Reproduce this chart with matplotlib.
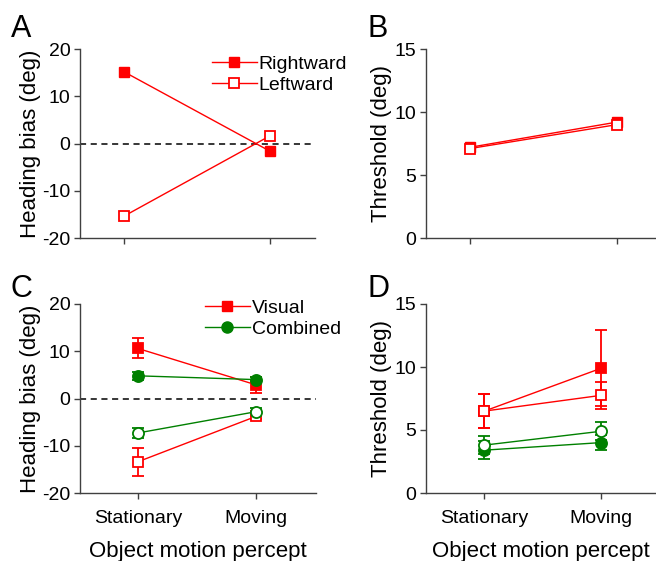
import matplotlib
matplotlib.use("Agg")
from matplotlib import pyplot as plt
from matplotlib.lines import Line2D

plt.rcParams['font.family'] = ['Liberation Sans', 'DejaVu Sans']
plt.rcParams['font.size'] = 14
plt.rcParams['axes.unicode_minus'] = False

RED = '#ff0000'
GREEN = '#008000'
SPINE = '#404040'

conds = ["Stationary", "Moving"]
xpos = [0, 1]

# panel A: heading bias, visual only
biasRight = [15.2, -1.6]
biasLeft = [-15.4, 1.6]

# panel B: thresholds, visual only
thrRight = [7.2, 9.2]
thrLeft = [7.1, 9.0]

# panel C: heading bias, visual / combined, with errors
visRight = [10.6, 2.9]
visRightErr = [2.1, 1.7]
visLeft = [-13.4, -3.8]
visLeftErr = [3.0, 0.5]
combRight = [4.8, 4.0]
combRightErr = [0.8, 0.6]
combLeft = [-7.3, -2.8]
combLeftErr = [1.1, 0.8]

# panel D: thresholds, visual / combined, with errors
thrVisRight = [6.5, 9.9]
thrVisRightErr = [1.35, 3.0]
thrVisLeft = [6.5, 7.75]
thrVisLeftErr = [1.35, 1.05]
thrCombRight = [3.4, 4.0]
thrCombRightErr = [0.7, 0.6]
thrCombLeft = [3.8, 4.9]
thrCombLeftErr = [0.7, 0.7]


def styleAxes(ax, ylim, yticks, xlim, xlabels):
    ax.set_xlim(*xlim)
    ax.set_ylim(*ylim)
    ax.set_yticks(yticks)
    ax.set_xticks(xpos)
    if xlabels:
        ax.set_xticklabels(conds)
        ax.set_xlabel("Object motion percept", labelpad=10, fontsize=16)
    else:
        ax.set_xticklabels([])
    for s in ["top", "right"]:
        ax.spines[s].set_visible(False)
    for s in ["left", "bottom"]:
        ax.spines[s].set_color(SPINE)
        ax.spines[s].set_linewidth(1.0)
    ax.tick_params(axis='both', colors=SPINE, labelcolor='black', length=4, width=1, labelsize=14)
    ax.tick_params(axis='x', pad=8)
    ax.tick_params(axis='y', pad=3)


def errLine(ax, y, err, color, marker, filled, ms):
    ax.errorbar(xpos, y, yerr=err, color=color, lw=1, elinewidth=1.3, capsize=4, capthick=1.3,
                marker=marker, ms=ms, mfc=color if filled else 'white', mec=color, mew=1.3, zorder=3)


W, H = 656, 561
fig = plt.figure(figsize=(W / 100, H / 100), dpi=100)

def axRect(left, top, right, bottom):
    return [left / W, 1 - bottom / H, (right - left) / W, (bottom - top) / H]

axA = fig.add_axes(axRect(80, 49, 315, 238))
axB = fig.add_axes(axRect(426, 49, 656, 238))
axC = fig.add_axes(axRect(80, 304, 316, 493))
axD = fig.add_axes(axRect(426, 304, 656, 493))

legKw = dict(loc='upper left', frameon=False, borderpad=0, borderaxespad=0,
             handlelength=2.3, handletextpad=0.1, labelspacing=0.2, fontsize=14)

# A
axA.axhline(0, color='black', ls=(0, (4, 3)), lw=1.1, zorder=1)
axA.plot(xpos, biasRight, color=RED, lw=1, marker='s', ms=7, mfc=RED, mec=RED, label="Rightward", zorder=3)
axA.plot(xpos, biasLeft, color=RED, lw=1, marker='s', ms=7, mfc='white', mec=RED, mew=1.3, label="Leftward", zorder=3)
styleAxes(axA, (-20, 20), [-20, -10, 0, 10, 20], (-0.30, 1.31), False)
axA.set_ylabel("Heading bias (deg)", labelpad=1, fontsize=16)
axA.legend(bbox_to_anchor=(0.562, 0.968), **legKw)

# B
axB.plot(xpos, thrRight, color=RED, lw=1, marker='s', ms=7, mfc=RED, mec=RED, zorder=3)
axB.plot(xpos, thrLeft, color=RED, lw=1, marker='s', ms=7, mfc='white', mec=RED, mew=1.3, zorder=3)
styleAxes(axB, (0, 15), [0, 5, 10, 15], (-0.30, 1.265), False)
axB.set_ylabel("Threshold (deg)", labelpad=2, fontsize=16)

# C
axC.axhline(0, color='black', ls=(0, (4, 3)), lw=1.1, zorder=1)
errLine(axC, visRight, visRightErr, RED, 's', True, 7)
errLine(axC, combRight, combRightErr, GREEN, 'o', True, 8)
errLine(axC, visLeft, visLeftErr, RED, 's', False, 7)
errLine(axC, combLeft, combLeftErr, GREEN, 'o', False, 8)
styleAxes(axC, (-20, 20), [-20, -10, 0, 10, 20], (-0.49, 1.51), True)
axC.set_ylabel("Heading bias (deg)", labelpad=1, fontsize=16)
hC = [Line2D([], [], color=RED, lw=1, marker='s', ms=7, mfc=RED, mec=RED),
      Line2D([], [], color=GREEN, lw=1, marker='o', ms=8, mfc=GREEN, mec=GREEN)]
axC.legend(hC, ["Visual", "Combined"], bbox_to_anchor=(0.53, 1.027), **legKw)

# D
errLine(axD, thrVisRight, thrVisRightErr, RED, 's', True, 7)
errLine(axD, thrVisLeft, thrVisLeftErr, RED, 's', False, 7)
errLine(axD, thrCombRight, thrCombRightErr, GREEN, 'o', True, 8)
errLine(axD, thrCombLeft, thrCombLeftErr, GREEN, 'o', False, 8)
styleAxes(axD, (0, 15), [0, 5, 10, 15], (-0.50, 1.47), True)
axD.set_ylabel("Threshold (deg)", labelpad=2, fontsize=16)

# panel letters
for letter, (x, y) in zip("ABCD", [(11, 37), (367, 37), (11, 297), (367, 297)]):
    fig.text(x / W, 1 - y / H, letter, fontsize=22, ha='left', va='baseline')

fig.savefig("out.png", dpi=100)
